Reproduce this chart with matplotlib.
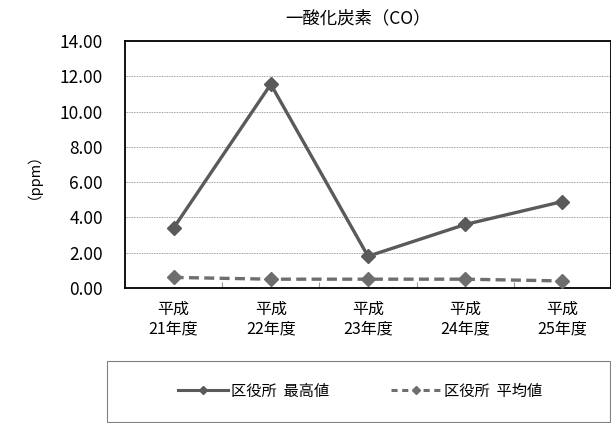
import matplotlib.pyplot as plt
from matplotlib.lines import Line2D
from matplotlib.patches import Rectangle

plt.rcParams['font.family'] = ['Noto Sans CJK JP', 'DejaVu Sans']

years = ['平成\n21年度', '平成\n22年度', '平成\n23年度', '平成\n24年度', '平成\n25年度']
max_vals = [3.4, 11.55, 1.8, 3.6, 4.9]
mean_vals = [0.6, 0.5, 0.5, 0.5, 0.4]
series_names = ['区役所  最高値', '区役所  平均値']

fig = plt.figure(figsize=(6.11, 4.23), dpi=100)
ax = fig.add_axes([125 / 611, 1 - 288 / 423, 486 / 611, 247 / 423])

x = list(range(len(years)))
ax.plot(x, max_vals, color='#5a5a5a', lw=2.4, marker='D', ms=7.5, zorder=3)
ax.plot(x, mean_vals, color='#6e6e6e', lw=2.4, ls=(0, (3, 1.6)), marker='D', ms=7.5, zorder=3)

ax.set_xlim(-0.5, len(years) - 0.5)
ax.set_ylim(0, 14)
ax.set_yticks(range(0, 15, 2))
ax.set_yticklabels(['{:.2f}'.format(v) for v in range(0, 15, 2)], fontsize=12.5)
ax.yaxis.grid(True, color='#808080', ls=(0, (1, 1)), lw=0.6)
ax.tick_params(axis='y', length=0, pad=16)

ax.set_xticks([i + 0.5 for i in range(len(years) - 1)])
ax.set_xticklabels([])
ax.tick_params(axis='x', direction='in', length=4, color='#999999')
for i, lab in enumerate(years):
    ax.text(i, -0.7, lab, ha='center', va='top', fontsize=11.5, linespacing=1.25)

for s in ax.spines.values():
    s.set_color('black')
    s.set_linewidth(1.3)

fig.text(26 / 611, 1 - 169 / 423, '（ppm）', rotation=90, ha='center', va='center', fontsize=10.5)
fig.text(358 / 611, 1 - 18 / 423, '一酸化炭素（CO）', ha='center', va='center', fontsize=12.5)

fig.patches.append(Rectangle((107 / 611, 1 - 422 / 423), 503 / 611, 61 / 423,
                             transform=fig.transFigure, fill=False,
                             edgecolor='#808080', lw=0.8))
handles = [
    Line2D([], [], color='#5a5a5a', lw=2.2, marker='D', ms=4),
    Line2D([], [], color='#6e6e6e', lw=2.2, ls=(0, (2, 1.5)), marker='D', ms=4),
]
fig.legend(handles, series_names, loc='center',
           bbox_to_anchor=(360 / 611, 1 - 391 / 423),
           ncol=2, fontsize=11, frameon=False,
           handlelength=3.3, handletextpad=0.2, columnspacing=4.0)

fig.savefig('out.png', dpi=100)
